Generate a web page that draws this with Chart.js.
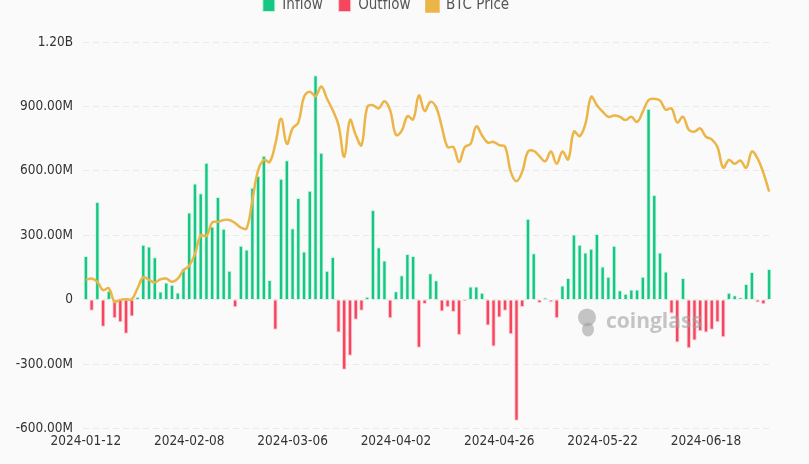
<!DOCTYPE html>
<html>
<head>
<meta charset="utf-8">
<script src="https://cdn.jsdelivr.net/npm/chart.js@4.4.1/dist/chart.umd.min.js"></script>
<style>
  html, body { margin: 0; padding: 0; background: #fafafa; overflow: hidden; }
  #wrap { position: relative; width: 809px; height: 464px; overflow: hidden; }
  #flowChart { position: absolute; left: 0; top: -18px; }
</style>
</head>
<body>
<div id="wrap"><canvas id="flowChart" width="809" height="482"></canvas></div>
<script>
// ---- data (trading days, flows in millions USD, price in thousands USD) ----

const dates = [
    '2024-01-12', '2024-01-16', '2024-01-17', '2024-01-18', '2024-01-19', '2024-01-22', '2024-01-23', '2024-01-24', '2024-01-25', '2024-01-26',
    '2024-01-29', '2024-01-30', '2024-01-31', '2024-02-01', '2024-02-02', '2024-02-05', '2024-02-06', '2024-02-07', '2024-02-08', '2024-02-09',
    '2024-02-12', '2024-02-13', '2024-02-14', '2024-02-15', '2024-02-16', '2024-02-20', '2024-02-21', '2024-02-22', '2024-02-23', '2024-02-26',
    '2024-02-27', '2024-02-28', '2024-02-29', '2024-03-01', '2024-03-04', '2024-03-05', '2024-03-06', '2024-03-07', '2024-03-08', '2024-03-11',
    '2024-03-12', '2024-03-13', '2024-03-14', '2024-03-15', '2024-03-18', '2024-03-19', '2024-03-20', '2024-03-21', '2024-03-22', '2024-03-25',
    '2024-03-26', '2024-03-27', '2024-03-28', '2024-04-01', '2024-04-02', '2024-04-03', '2024-04-04', '2024-04-05', '2024-04-08', '2024-04-09',
    '2024-04-10', '2024-04-11', '2024-04-12', '2024-04-15', '2024-04-16', '2024-04-17', '2024-04-18', '2024-04-19', '2024-04-22', '2024-04-23',
    '2024-04-24', '2024-04-25', '2024-04-26', '2024-04-29', '2024-04-30', '2024-05-01', '2024-05-02', '2024-05-03', '2024-05-06', '2024-05-07',
    '2024-05-08', '2024-05-09', '2024-05-10', '2024-05-13', '2024-05-14', '2024-05-15', '2024-05-16', '2024-05-17', '2024-05-20', '2024-05-21',
    '2024-05-22', '2024-05-23', '2024-05-24', '2024-05-28', '2024-05-29', '2024-05-30', '2024-05-31', '2024-06-03', '2024-06-04', '2024-06-05',
    '2024-06-06', '2024-06-07', '2024-06-10', '2024-06-11', '2024-06-12', '2024-06-13', '2024-06-14', '2024-06-17', '2024-06-18', '2024-06-20',
    '2024-06-21', '2024-06-24', '2024-06-25', '2024-06-26', '2024-06-27', '2024-06-28', '2024-07-01', '2024-07-02', '2024-07-03', '2024-07-05'
];

const netFlow = [
    204, -51, 455, -125, 42, -85, -104, -158, -77, 15,
    256, 248, 198, 39, 81, 70, 34, 147, 406, 542,
    496, 638, 341, 479, 331, 136, -34, 252, 234, 522,
    578, 671, 93, -139, 564, 650, 333, 474, 225, 508,
    1045, 685, 135, 200, -152, -325, -260, -93, -51, 15,
    418, 245, 183, -85, 40, 115, 214, 204, -223, -19,
    124, 91, -54, -34, -56, -164, -5, 62, 62, 33,
    -119, -217, -82, -51, -160, -562, -33, 378, 217, -14,
    11, -11, -85, 67, 102, 304, 257, 221, 238, 307,
    155, 108, 252, 45, 28, 48, 48, 107, 889, 488,
    220, 132, -64, -198, 102, -225, -189, -146, -152, -139,
    -104, -174, 33, 22, 12, 74, 130, -12, -20, 144
];

const btcPrice = [
    43.1, 43.3, 42.8, 41.5, 41.8, 39.7, 40.0, 40.1, 40.1, 41.8,
    43.5, 43.1, 42.7, 43.2, 43.3, 42.8, 43.3, 44.6, 45.3, 47.1,
    50.0, 49.9, 52.0, 52.1, 52.4, 52.4, 51.9, 51.2, 51.1, 55.5,
    60.1, 61.7, 61.4, 64.2, 68.1, 64.2, 66.6, 67.5, 71.5, 72.3,
    71.6, 73.1, 71.2, 69.4, 67.1, 62.2, 67.9, 65.6, 64.0, 69.9,
    70.2, 69.7, 70.8, 69.4, 65.6, 66.2, 68.5, 68.0, 71.7, 69.3,
    70.7, 69.9, 66.8, 63.7, 63.7, 61.4, 63.7, 64.2, 66.9, 65.5,
    64.4, 64.5, 64.0, 63.8, 59.9, 58.4, 59.9, 63.0, 63.1, 62.3,
    61.5, 63.0, 61.1, 63.0, 61.8, 66.1, 65.4, 67.3, 71.5, 70.2,
    69.2, 68.4, 68.6, 68.4, 67.9, 68.4, 67.6, 69.2, 71.0, 71.2,
    70.9, 69.5, 69.7, 67.5, 68.4, 66.4, 66.1, 66.6, 65.3, 64.9,
    63.7, 60.5, 61.7, 61.1, 61.6, 60.5, 63.0, 61.9, 59.7, 56.8
];

const flowTicks = [-600, -300, 0, 300, 600, 900, 1200];
const flowTickLabels = ['-600.00M', '-300.00M', '0', '300.00M', '600.00M', '900.00M', '1.20B'];

// split net flow into the two legend series
const inflow = netFlow.map(v => (v >= 0 ? v : null));
const outflow = netFlow.map(v => (v < 0 ? v : null));

const FONT = '"DejaVu Sans Condensed", "DejaVu Sans", sans-serif';

// extra room under the legend
const legendGap = {
    id: 'legendGap',
    beforeInit(chart) {
        const fit = chart.legend.fit;
        chart.legend.fit = function () {
            fit.bind(chart.legend)();
            this.height += 19;
        };
    }
};

// watermark
const watermark = {
    id: 'watermark',
    afterDatasetsDraw(chart) {
        const ctx = chart.ctx;
        const y = chart.scales.y.getPixelForValue(-105);
        ctx.save();
        ctx.fillStyle = 'rgba(160,160,160,0.6)';
        ctx.beginPath();
        ctx.arc(587, y - 5, 9, 0, Math.PI * 2);
        ctx.fill();
        ctx.beginPath();
        ctx.ellipse(588, y + 7, 6, 7, 0, 0, Math.PI * 2);
        ctx.fill();
        ctx.font = 'bold 21px "Open Sans", sans-serif';
        ctx.textBaseline = 'middle';
        ctx.fillText('coinglass', 606, y);
        ctx.restore();
    }
};

const ctx = document.getElementById('flowChart').getContext('2d');
const chart = new Chart(ctx, {
    data: {
        labels: dates,
        datasets: [
            {
                type: 'bar',
                label: 'Inflow',
                data: inflow,
                backgroundColor: '#16c784',
                borderColor: 'rgba(200,245,225,0.9)',
                borderWidth: 1,
                grouped: false,
                barPercentage: 0.78,
                categoryPercentage: 1,
                yAxisID: 'y',
                order: 2
            },
            {
                type: 'bar',
                label: 'Outflow',
                data: outflow,
                backgroundColor: '#f6465d',
                borderColor: 'rgba(252,200,208,0.9)',
                borderWidth: 1,
                grouped: false,
                barPercentage: 0.78,
                categoryPercentage: 1,
                yAxisID: 'y',
                order: 2
            },
            {
                type: 'line',
                label: 'BTC Price',
                data: btcPrice,
                borderColor: '#ebb548',
                backgroundColor: '#ebb548',
                borderWidth: 2.5,
                pointRadius: 0,
                tension: 0.4,
                yAxisID: 'price',
                order: 1
            }
        ]
    },
    options: {
        responsive: false,
        animation: false,
        layout: { padding: { left: 0, right: 37, top: 0, bottom: 9 } },
        plugins: {
            legend: {
                position: 'top',
                labels: {
                    boxWidth: 12,
                    boxHeight: 12,
                    padding: 16,
                    color: '#555',
                    font: { family: FONT, size: 15 },
                    sort: (a, b) => a.datasetIndex - b.datasetIndex
                }
            },
            tooltip: { enabled: false }
        },
        scales: {
            x: {
                grid: { display: false, drawTicks: false },
                border: { display: false },
                ticks: {
                    autoSkip: false,
                    maxRotation: 0,
                    padding: 5,
                    color: '#333',
                    font: { family: FONT, size: 13.5 },
                    callback: function (val, i) {
                        return i % 18 === 0 ? dates[i] : '';
                    }
                }
            },
            y: {
                position: 'left',
                min: -600,
                max: 1200,
                afterBuildTicks: function (scale) {
                    scale.ticks = flowTicks.map(v => ({ value: v }));
                },
                afterFit: function (scale) { scale.width = 83; },
                grid: {
                    color: '#e9e9e9',
                    drawTicks: false
                },
                border: { display: false, dash: [6, 4] },
                ticks: {
                    padding: 10,
                    color: '#333',
                    font: { family: FONT, size: 13.5 },
                    callback: function (val) {
                        return flowTickLabels[flowTicks.indexOf(val)];
                    }
                }
            },
            price: {
                display: false,
                position: 'right',
                min: 20,
                max: 80
            }
        }
    },
    plugins: [legendGap, watermark]
});
</script>
</body>
</html>
